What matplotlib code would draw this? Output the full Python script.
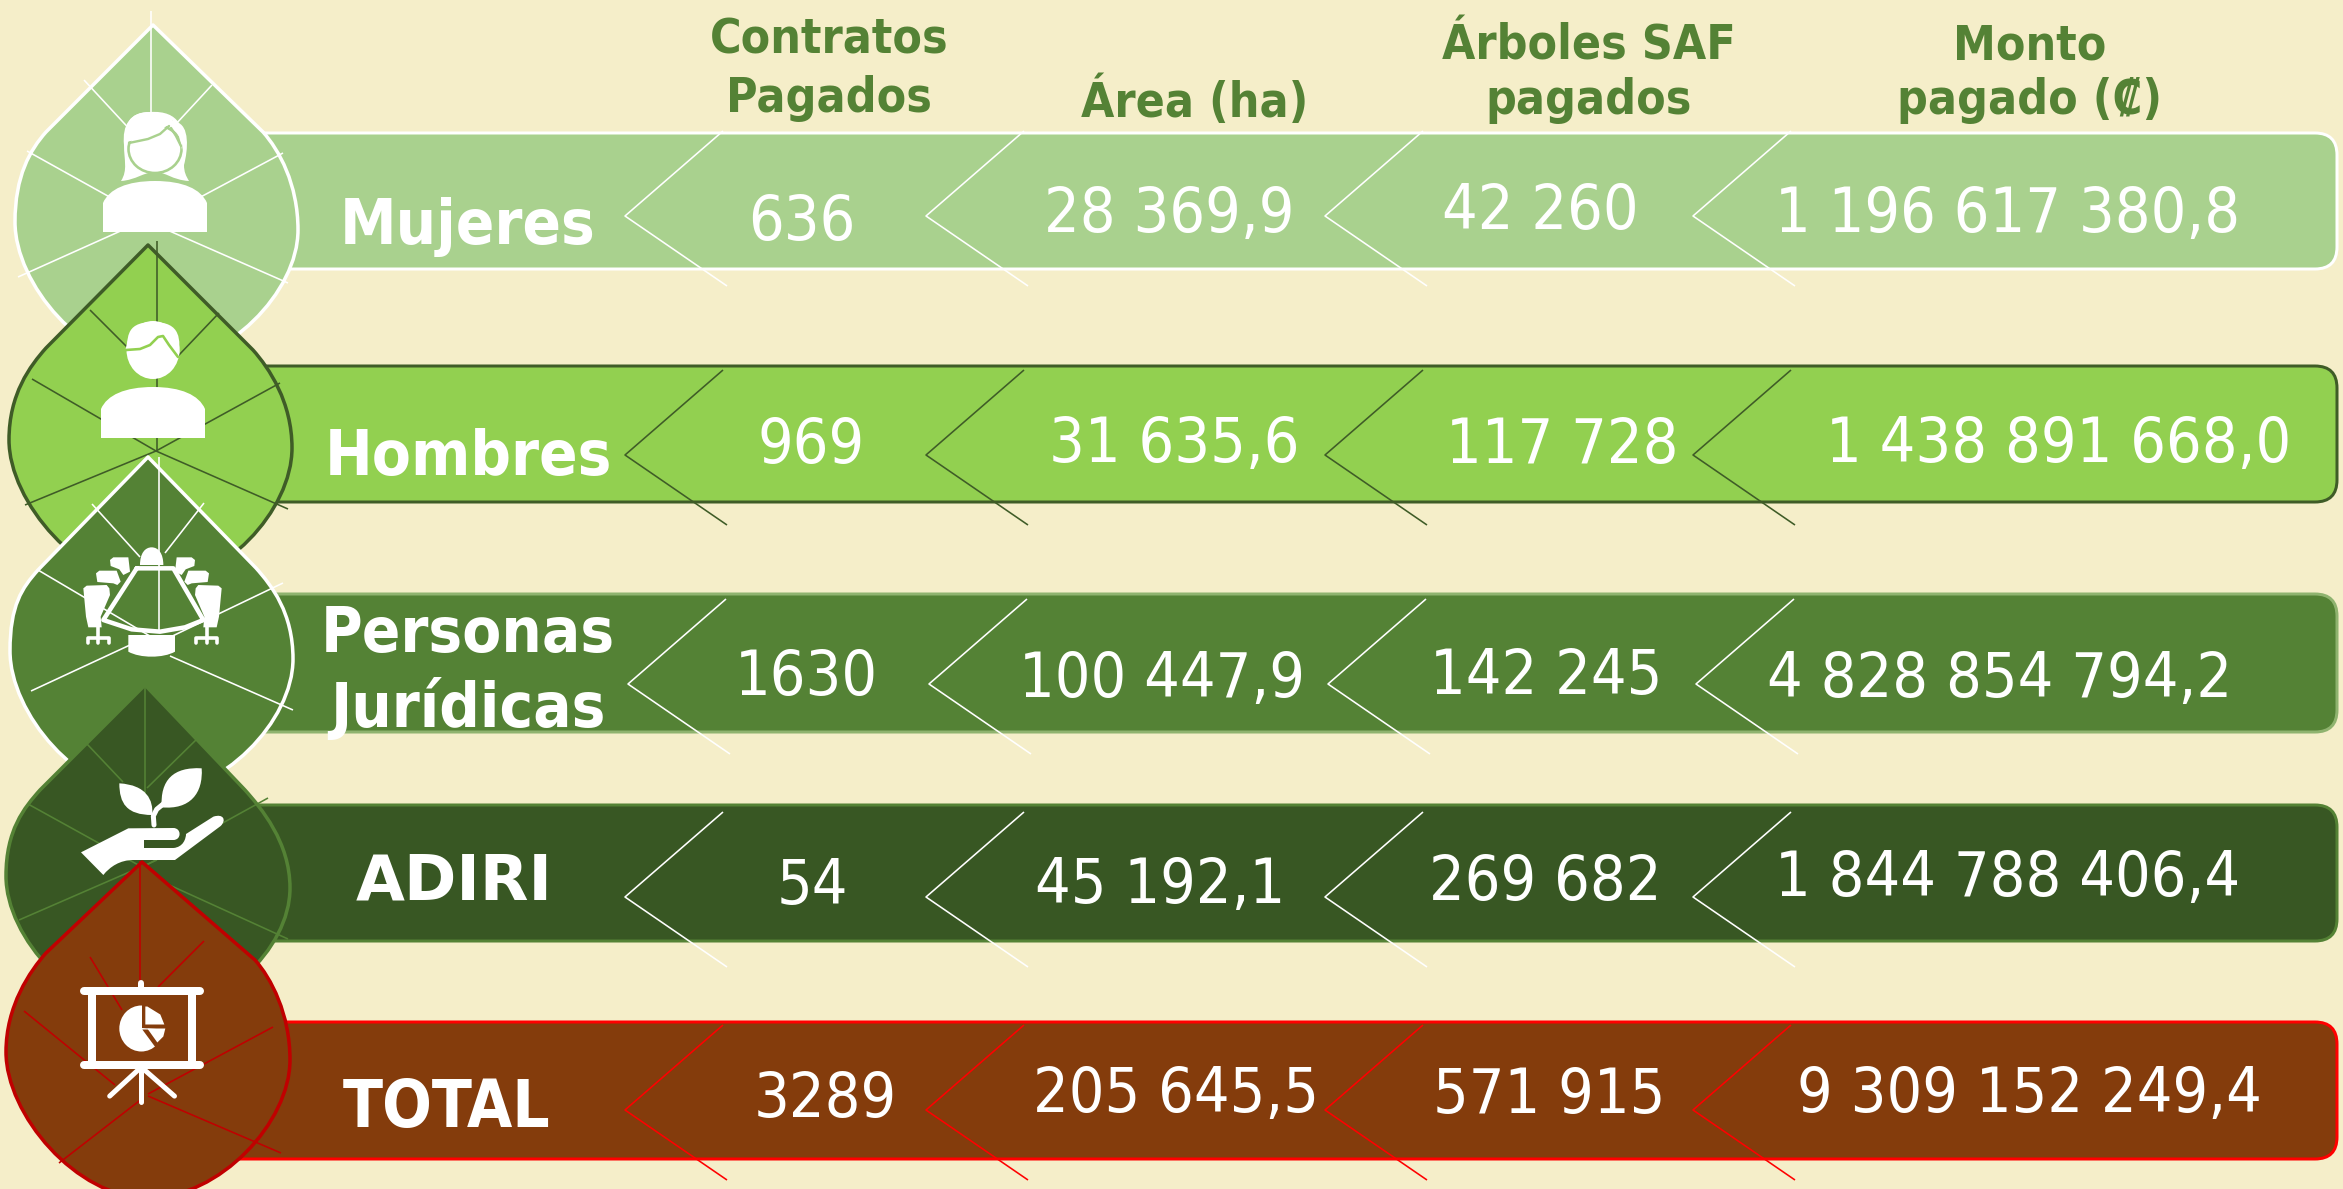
import matplotlib
matplotlib.use("Agg")
import matplotlib.pyplot as plt
from matplotlib.path import Path
from matplotlib.patches import PathPatch, FancyBboxPatch, Ellipse, Polygon, Rectangle

# ---------- data ----------
categories = ["Mujeres", "Hombres", "Personas\nJurídicas", "ADIRI", "TOTAL"]
headers = ["Contratos\nPagados", "Área (ha)", "Árboles SAF\npagados", "Monto\npagado (₡)"]
contratos = ["636", "969", "1630", "54", "3289"]
area = ["28 369,9", "31 635,6", "100 447,9", "45 192,1", "205 645,5"]
arboles = ["42 260", "117 728", "142 245", "269 682", "571 915"]
monto = ["1 196 617 380,8", "1 438 891 668,0", "4 828 854 794,2", "1 844 788 406,4", "9 309 152 249,4"]

# ---------- style ----------
BG = "#F5EEC9"
FILL = ["#A9D18E", "#92D050", "#548235", "#385723", "#843C0C"]
BAR_EDGE = ["#FFFFFF", "#3F5C27", "#8FB36F", "#548235", "#FF0000"]
LEAF_EDGE = ["#FFFFFF", "#3F5C27", "#FFFFFF", "#548235", "#C00000"]
VEIN = ["#FFFFFF", "#3F5C27", "#FFFFFF", "#548235", "#C00000"]
CHEV = ["#FFFFFF", "#3F5C27", "#FFFFFF", "#FFFFFF", "#FF0000"]
HEAD = "#548235"
PX = 0.72
FONT = dict(family="DejaVu Sans", stretch="condensed")

fig = plt.figure(figsize=(23.43, 11.89), dpi=100, facecolor=BG)
ax = fig.add_axes([0, 0, 1, 1])
ax.set_xlim(0, 2343)
ax.set_ylim(1189, 0)
ax.axis("off")

BARS = [(133, 269), (366, 502), (594, 732), (805, 941), (1022, 1159)]
LEAF = [
    dict(t=(153, 25), sl=(46, 132), sr=(263, 132), lm=(15, 222), rm=(298, 230), b=(155, 365)),
    dict(t=(148, 245), sl=(46, 348), sr=(253, 350), lm=(9, 440), rm=(292, 448), b=(152, 585)),
    dict(t=(148, 457), sl=(38, 570), sr=(256, 568), lm=(10, 651), rm=(293, 659), b=(150, 795)),
    dict(t=(145, 685), sl=(40, 790), sr=(245, 790), lm=(6, 876), rm=(290, 888), b=(148, 1015)),
    dict(t=(142, 862), sl=(46, 953), sr=(255, 960), lm=(6, 1052), rm=(290, 1060), b=(148, 1198)),
]
VEINS = [
    [((151, 11), (151, 140)), ((84, 80), (135, 135)), ((212, 85), (175, 125)), ((27, 151), (115, 200)),
     ((283, 153), (195, 200)), ((18, 277), (125, 229)), ((288, 283), (165, 229))],
    [((157, 241), (157, 451)), ((90, 310), (130, 350)), ((219, 313), (178, 356)), ((32, 379), (156, 451)),
     ((280, 383), (156, 451)), ((25, 505), (156, 451)), ((288, 509), (156, 451))],
    [((159, 457), (159, 633)), ((92, 504), (140, 557)), ((204, 503), (165, 553)), ((38, 570), (160, 642)),
     ((283, 583), (160, 642)), ((31, 691), (130, 645)), ((293, 710), (170, 656))],
    [((145, 685), (145, 793)), ((87, 744), (123, 782)), ((199, 737), (147, 788)), ((28, 804), (142, 867)),
     ((268, 798), (143, 867)), ((19, 920), (157, 860)), ((288, 939), (143, 873))],
    [((140, 861), (140, 985)), ((90, 957), (122, 1010)), ((204, 941), (158, 987)), ((24, 1011), (115, 1085)),
     ((273, 1027), (148, 1094)), ((59, 1163), (143, 1098)), ((281, 1153), (148, 1096))],
]
CHEV_X = [625, 926, 1325, 1693]
CHEV_Y = [216, 455, 684, 897, 1110]
VAL_X = [[802, 1169, 1540, 2008], [811, 1174, 1562, 2059], [806, 1162, 1546, 2000],
         [812, 1160, 1545, 2008], [825, 1176, 1549, 2029]]
VAL_BASE = [[240, 232, 229, 232], [463, 462, 463, 462], [695, 697, 694, 697],
            [904, 903, 900, 896], [1117, 1112, 1113, 1112]]
LABEL_X = [468, 468, 468, 454, 447]
LABEL_BASE = [[244], [475], [652, 727], [899], [1127]]
LABEL_STRETCH = ["condensed", "condensed", "condensed", "normal", "condensed"]
LABEL_SIZE = [45.5, 45.5, 45.5, 45.5, 47]
HEAD_X = [829, 1195, 1589, 2030]
HEAD_BASE = [[53, 112], [117], [59, 114], [59, 114]]

CUR_Z = [10]


def leaf_path(g):
    t, sl, sr, lm, rm, b = g["t"], g["sl"], g["sr"], g["lm"], g["rm"], g["b"]
    v = [t, sr,
         (sr[0] + 16, sr[1] + 18), (rm[0], rm[1] - 46), rm,
         (rm[0], rm[1] + 62), (b[0] + 72, b[1]), b,
         (b[0] - 72, b[1]), (lm[0], lm[1] + 62), lm,
         (lm[0], lm[1] - 46), (sl[0] - 16, sl[1] + 18), sl,
         t, t]
    c = [Path.MOVETO, Path.LINETO] + [Path.CURVE4] * 12 + [Path.LINETO, Path.CLOSEPOLY]
    return Path(v, c)


def shape(pts, x0=0, y0=0, sx=1.0, sy=1.0, fc="white"):
    P = [(x0 + p[0] * sx, y0 + p[1] * sy) for p in pts]
    ax.add_patch(Polygon(P, closed=True, fc=fc, ec="none", zorder=CUR_Z[0]))


def line(pts, x0=0, y0=0, sx=1.0, sy=1.0, lw=3.0, color="white", z=None, cap="round"):
    ax.plot([x0 + p[0] * sx for p in pts], [y0 + p[1] * sy for p in pts], color=color,
            lw=lw * PX, solid_capstyle=cap, solid_joinstyle="round", zorder=CUR_Z[0] if z is None else z)


def curve(verts, x0=0, y0=0, sx=1.0, sy=1.0, fc="white", dz=0):
    """verts: start then triples of cubic bezier points; closed filled path"""
    V = [(x0 + p[0] * sx, y0 + p[1] * sy) for p in verts]
    c = [Path.MOVETO] + [Path.CURVE4] * (len(V) - 1)
    ax.add_patch(PathPatch(Path(V, c), fc=fc, ec="none", lw=0, zorder=CUR_Z[0] + dz))


def body(x0, x1, top, bot):
    xm = (x0 + x1) / 2
    curve([(x0, bot), (x0, bot), (x0, top + 22), (x0, top + 22),
           (x0 + 6, top + 8), (xm - 28, top), (xm, top),
           (xm + 28, top), (x1 - 6, top + 8), (x1, top + 22),
           (x1, top + 22), (x1, bot), (x1, bot),
           (x1, bot), (x0, bot), (x0, bot)])


def icon_woman():
    z = CUR_Z[0]
    curve([(121, 181), (128, 170), (124, 160), (124, 145),
           (122, 125), (130, 112), (150, 112),
           (163, 112), (170, 120), (176, 122),
           (190, 125), (188, 150), (184, 165),
           (184, 172), (186, 176), (189, 181),
           (172, 180), (166, 172), (155, 172),
           (144, 172), (136, 180), (121, 181)])
    ax.add_patch(Ellipse((155, 149), 53, 48, fc="white", ec=FILL[0], lw=2.6 * PX, zorder=z + 0.1))
    curve([(126, 142), (145, 138), (160, 135), (172, 120),
           (176, 130), (180, 135), (182, 150),
           (186, 130), (180, 110), (150, 112),
           (125, 112), (125, 130), (126, 142)], dz=0.2)
    line([(129, 143), (148, 139), (160, 134), (169, 126)], lw=2.4, color=FILL[0], z=z + 0.3)
    line([(171, 128), (176, 136), (181, 146)], lw=2.4, color=FILL[0], z=z + 0.3)
    body(103, 207, 181, 232)


def icon_man():
    z = CUR_Z[0]
    ax.add_patch(Ellipse((153, 350), 53, 58, fc="white", ec="none", zorder=z))
    curve([(125, 350), (130, 342), (122, 322), (153, 322),
           (182, 322), (180, 340), (179, 358),
           (172, 345), (167, 338), (163, 336),
           (155, 345), (145, 350), (125, 350)])
    line([(126, 350), (140, 349), (150, 345), (158, 337), (163, 336), (169, 345), (178, 357)],
         lw=2.6, color=FILL[1], z=z + 0.2)
    body(101, 205, 387, 438)


def icon_meeting():
    X, Y, S = 60, 530, 1 / 3
    kw = dict(x0=X, y0=Y, sx=S, sy=S)
    line([(230, 115), (340, 115), (430, 270), (375, 292), (300, 305), (215, 298), (130, 270), (230, 115)],
         lw=4.5, **kw)
    curve([(240, 105), (240, 70), (255, 52), (275, 52), (295, 52), (310, 70), (310, 105),
           (310, 105), (240, 105), (240, 105)], **kw)
    curve([(205, 315), (205, 315), (345, 315), (345, 315), (345, 330), (345, 350), (345, 365),
           (310, 385), (240, 385), (205, 365), (205, 350), (205, 330), (205, 315)], **kw)
    for m in (0, 1):
        fx = (lambda x: x) if m == 0 else (lambda x: 555 - x)

        def P(a):
            return [(fx(p[0]), p[1]) for p in a]
        shape(P([(150, 90), (160, 82), (205, 82), (210, 125), (190, 135), (178, 118), (152, 108)]), **kw)
        shape(P([(108, 130), (118, 122), (170, 122), (182, 155), (172, 165), (160, 160), (112, 156)]), **kw)
        shape(P([(70, 175), (80, 167), (140, 165), (148, 175), (150, 195), (122, 260), (125, 292),
                 (85, 292), (78, 260)]), **kw)
        line(P([(115, 285), (115, 340)]), lw=3.6, **kw)
        line(P([(83, 340), (83, 325), (147, 325), (147, 340)]), lw=3.6, **kw)


def icon_plant():
    X, Y, S = 60, 760, 1 / 3
    kw = dict(x0=X, y0=Y, sx=S, sy=S)
    curve([(178, 70), (178, 130), (200, 165), (277, 165),
           (280, 120), (260, 75), (178, 70)], **kw)
    curve([(425, 25), (340, 20), (300, 60), (305, 142),
           (390, 150), (430, 100), (425, 25)], **kw)
    line([(282, 195), (280, 168), (290, 148), (312, 130)], lw=5, **kw)
    curve([(63, 277), (63, 277), (205, 205), (205, 205),
           (205, 205), (340, 204), (340, 204),
           (365, 204), (365, 240), (340, 240),
           (340, 240), (252, 240), (252, 240),
           (252, 240), (252, 264), (252, 264),
           (252, 264), (340, 264), (340, 264),
           (370, 262), (378, 235), (378, 222),
           (378, 222), (460, 170), (460, 170),
           (490, 160), (500, 180), (482, 198),
           (482, 198), (345, 300), (345, 300),
           (345, 300), (220, 300), (220, 300),
           (180, 300), (150, 320), (130, 345),
           (130, 345), (63, 277), (63, 277)], **kw)


def icon_board():
    z = CUR_Z[0]
    X, Y, SX, SY = 0, 590, 1 / 1.96, 1 / 2.618
    kw = dict(x0=X, y0=Y, sx=SX, sy=SY)
    line([(165, 1050), (392, 1050)], lw=8, **kw)
    line([(165, 1243), (392, 1243)], lw=8, **kw)
    line([(277, 1030), (277, 1050)], lw=6, **kw)
    ax.add_patch(Rectangle((X + 180 * SX, Y + 1050 * SY), 197 * SX, 193 * SY, fc="none", ec="white",
                           lw=8 * PX, zorder=z))
    line([(277, 1250), (277, 1340)], lw=5, **kw)
    line([(272, 1255), (215, 1325)], lw=5, **kw)
    line([(282, 1255), (342, 1325)], lw=5, **kw)
    cx, cy = 277 * SX, 590 + 1148 * SY
    ax.add_patch(Ellipse((cx, cy), 44, 46, fc="white", ec="none", zorder=z))
    ax.add_patch(Polygon([(cx + 1, cy - 1), (cx + 1, cy - 30), (cx + 30, cy - 30), (cx + 30, cy + 1)],
                         fc=FILL[4], ec="none", zorder=z + 0.1))
    ax.add_patch(Polygon([(cx + 1, cy + 1), (cx + 26, cy + 1), (cx + 15, cy + 20)],
                         fc=FILL[4], ec="none", zorder=z + 0.1))
    cx2, cy2 = cx + 4, cy - 4
    ax.add_patch(Polygon([(cx2, cy2 - 18), (cx2 + 2, cy2 - 18), (cx2 + 15, cy2 - 10), (cx2 + 19, cy2), (cx2, cy2)],
                         fc="white", ec="none", zorder=z + 0.2))
    ax.add_patch(Polygon([(cx2 + 2, cy2 + 4), (cx2 + 20, cy2 + 4), (cx2 + 18, cy2 + 12), (cx2 + 12, cy2 + 18)],
                         fc="white", ec="none", zorder=z + 0.2))


ICONS = [icon_woman, icon_man, icon_meeting, icon_plant, icon_board]

# ---------- draw ----------
for i, cat in enumerate(categories):
    base = i * 10 + 1
    top, bot = BARS[i]
    ax.add_patch(FancyBboxPatch((200, top), 2337 - 200, bot - top,
                                boxstyle="round,pad=0,rounding_size=22", fc=FILL[i], ec=BAR_EDGE[i],
                                lw=3 * PX, zorder=base))
    for cx in CHEV_X:
        vx = cx + (3 if i == 2 else 0)
        vy = CHEV_Y[i]
        line([(vx + 98, vy - 85), (vx, vy), (vx + 102, vy + 70)], lw=1.6, color=CHEV[i], z=base + 0.5, cap="butt")
    for j, col in enumerate((contratos, area, arboles, monto)):
        ax.text(VAL_X[i][j], VAL_BASE[i][j], col[i], color="white", fontsize=45, ha="center",
                va="baseline", zorder=base + 1, **FONT)
    for txt, yb in zip(cat.split("\n"), LABEL_BASE[i]):
        ax.text(LABEL_X[i], yb, txt, color="white", fontsize=LABEL_SIZE[i], fontweight="bold", ha="center",
                va="baseline", zorder=base + 1, family="DejaVu Sans", stretch=LABEL_STRETCH[i])
    ax.add_patch(PathPatch(leaf_path(LEAF[i]), fc=FILL[i], ec=LEAF_EDGE[i], lw=3.5 * PX, zorder=base + 2,
                           joinstyle="round"))
    for o, inner in VEINS[i]:
        line([o, inner], lw=1.6, color=VEIN[i], z=base + 2.5, cap="butt")
    CUR_Z[0] = base + 3
    ICONS[i]()

for h, x, ys in zip(headers, HEAD_X, HEAD_BASE):
    for txt, yb in zip(h.split("\n"), ys):
        ax.text(x, yb, txt, color=HEAD, fontsize=34.5, fontweight="bold", ha="center", va="baseline",
                zorder=100, **FONT)

fig.savefig("out.png", dpi=100, facecolor=BG)
